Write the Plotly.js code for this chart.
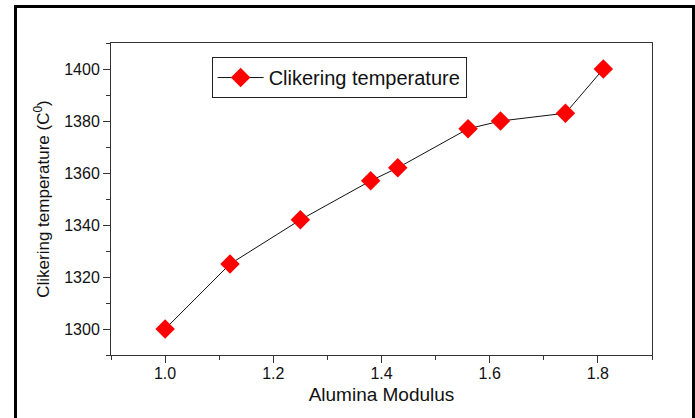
<!DOCTYPE html>
<html>
<head>
<meta charset="utf-8">
<script src="https://cdn.plot.ly/plotly-3.0.1.min.js"></script>
<style>
  html, body { margin: 0; padding: 0; background: #fff; }
  #wrap { position: relative; width: 695px; height: 418px; overflow: hidden; }
  #chart { position: absolute; left: 0; top: 0; width: 695px; height: 418px; }
  #frame { position: absolute; left: 14px; top: 5px; width: 675px; height: 430px;
           border-left: 3px solid #000; border-top: 3px solid #000; border-right: 4px solid #000;
           pointer-events: none; }
</style>
</head>
<body>
<div id="wrap">
  <div id="chart"></div>
  <div id="frame"></div>
</div>
<script>
const aluminaModulus = [1.0, 1.12, 1.25, 1.38, 1.43, 1.56, 1.62, 1.74, 1.81];
const clinkeringTemp = [1300, 1325, 1342, 1357, 1362, 1377, 1380, 1383, 1400];
const seriesName = 'Clikering temperature';
const xTitle = 'Alumina Modulus';
const yTitle = 'Clikering temperature (C<sup>0</sup>)';
const xTicks = [1.0, 1.2, 1.4, 1.6, 1.8];
const xTickLabels = ['1.0', '1.2', '1.4', '1.6', '1.8'];
const yTicks = [1300, 1320, 1340, 1360, 1380, 1400];

const FONT = 'Liberation Sans, Arial, sans-serif';

const trace = {
  x: aluminaModulus,
  y: clinkeringTemp,
  name: seriesName,
  type: 'scatter',
  mode: 'lines+markers',
  line: { color: '#111', width: 1 },
  marker: { symbol: 'diamond', size: 15, color: '#ff0000', line: { width: 0 } },
  showlegend: true
};

const axisCommon = {
  showgrid: false,
  zeroline: false,
  showline: true,
  linecolor: '#333',
  linewidth: 1,
  mirror: true,
  ticks: 'outside',
  ticklen: 7,
  tickwidth: 1,
  tickcolor: '#333',
  tickfont: { family: FONT, size: 16, color: '#111' }
};

const layout = {
  width: 695,
  height: 418,
  margin: { l: 111, r: 43, t: 43, b: 63 },
  paper_bgcolor: '#fff',
  plot_bgcolor: '#fff',
  font: { family: FONT, color: '#111' },
  xaxis: Object.assign({}, axisCommon, {
    range: [0.9, 1.9],
    tickmode: 'array',
    tickvals: xTicks,
    ticktext: xTickLabels,
    ticklabelstandoff: -3,
    minor: { dtick: 0.1, tick0: 0.9, ticks: 'outside', ticklen: 4, tickcolor: '#333', showgrid: false },
    title: { text: xTitle, font: { family: FONT, size: 19, color: '#111' }, standoff: 6 }
  }),
  yaxis: Object.assign({}, axisCommon, {
    range: [1290, 1410],
    tickmode: 'array',
    tickvals: yTicks,
    minor: { dtick: 10, tick0: 1290, ticks: 'outside', ticklen: 4, tickcolor: '#333', showgrid: false },
    title: { text: yTitle, font: { family: FONT, size: 17, color: '#111' }, standoff: 10 }
  }),
  legend: {
    x: 0.186, y: 0.955, xanchor: 'left', yanchor: 'top',
    bgcolor: '#fff', bordercolor: '#222', borderwidth: 1,
    font: { family: FONT, size: 20, color: '#111' },
    itemwidth: 46
  },
  showlegend: true
};

Plotly.newPlot('chart', [trace], layout, { displayModeBar: false, staticPlot: true });
</script>
</body>
</html>
